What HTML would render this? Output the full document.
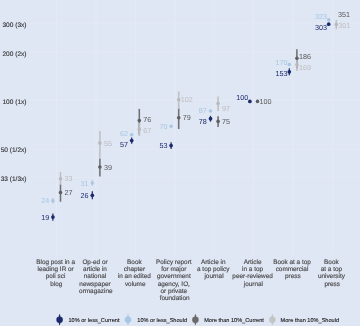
<!DOCTYPE html>
<html><head><meta charset="utf-8"><title>chart</title>
<style>
html,body{margin:0;padding:0;background:#dfe6f4;}
body{width:360px;height:326px;overflow:hidden;}
svg text{text-rendering:geometricPrecision;font-family:"Liberation Sans",sans-serif;}
.yl{font-size:6.55px;fill:#303030;stroke:#303030;stroke-width:0.12px;}
.dl{font-size:7.2px;}
.xl{font-size:6.4px;fill:#4a4a4a;stroke:#4a4a4a;stroke-width:0.15px;}
.lg{font-size:5.6px;fill:#222;stroke:#222;stroke-width:0.12px;}
</style></head><body>
<svg width="360" height="326" viewBox="0 0 360 326" style="display:block">
<rect width="360" height="326" fill="#dfe6f4"/>
<line x1="56.6" y1="0" x2="56.6" y2="255" stroke="#e6ebf7" stroke-width="1"/>
<line x1="96.0" y1="0" x2="96.0" y2="255" stroke="#e6ebf7" stroke-width="1"/>
<line x1="135.4" y1="0" x2="135.4" y2="255" stroke="#e6ebf7" stroke-width="1"/>
<line x1="174.8" y1="0" x2="174.8" y2="255" stroke="#e6ebf7" stroke-width="1"/>
<line x1="214.2" y1="0" x2="214.2" y2="255" stroke="#e6ebf7" stroke-width="1"/>
<line x1="253.6" y1="0" x2="253.6" y2="255" stroke="#e6ebf7" stroke-width="1"/>
<line x1="293.0" y1="0" x2="293.0" y2="255" stroke="#e6ebf7" stroke-width="1"/>
<line x1="332.4" y1="0" x2="332.4" y2="255" stroke="#e6ebf7" stroke-width="1"/>
<line x1="29.5" y1="23.8" x2="360" y2="23.8" stroke="#e6ebf7" stroke-width="0.7"/>
<line x1="29.5" y1="52.2" x2="360" y2="52.2" stroke="#e6ebf7" stroke-width="0.7"/>
<line x1="29.5" y1="100.7" x2="360" y2="100.7" stroke="#e6ebf7" stroke-width="0.7"/>
<line x1="29.5" y1="149.2" x2="360" y2="149.2" stroke="#e6ebf7" stroke-width="0.7"/>
<line x1="29.5" y1="177.6" x2="360" y2="177.6" stroke="#e6ebf7" stroke-width="0.7"/>
<text x="26.5" y="27.3" text-anchor="end" class="yl">300 (3x)</text>
<text x="26.5" y="55.6" text-anchor="end" class="yl">200 (2x)</text>
<text x="26.5" y="103.9" text-anchor="end" class="yl">100 (1x)</text>
<text x="26.5" y="152.2" text-anchor="end" class="yl">50 (1/2x)</text>
<text x="26.5" y="180.5" text-anchor="end" class="yl">33 (1/3x)</text>
<line x1="60.5" y1="184.4" x2="60.5" y2="201.7" stroke="#707070" stroke-width="1.55"/>
<line x1="60.5" y1="172.0" x2="60.5" y2="184.4" stroke="#bfbfbf" stroke-width="1.5"/>
<line x1="52.9" y1="213.4" x2="52.9" y2="220.8" stroke="#1b2a6b" stroke-width="1.2"/>
<line x1="52.9" y1="198.1" x2="52.9" y2="203.5" stroke="#a8c8e3" stroke-width="1.2"/>
<circle cx="60.5" cy="192.6" r="1.8" fill="#5e5e5e"/>
<circle cx="60.5" cy="178.7" r="1.8" fill="#b9b9b9"/>
<circle cx="52.9" cy="217.1" r="1.85" fill="#1b2a6b"/>
<circle cx="52.9" cy="200.8" r="1.75" fill="#a8c8e3"/>
<text x="68.5" y="195.2" text-anchor="middle" class="dl" fill="#5a5a5a">27</text>
<text x="68.5" y="181.3" text-anchor="middle" class="dl" fill="#bdbdbd">33</text>
<text x="45.2" y="219.7" text-anchor="middle" class="dl" fill="#1f2d6e">19</text>
<text x="45.2" y="203.4" text-anchor="middle" class="dl" fill="#a8c8e3">24</text>
<line x1="99.9" y1="158.6" x2="99.9" y2="176.6" stroke="#707070" stroke-width="1.55"/>
<line x1="99.9" y1="131.0" x2="99.9" y2="157.7" stroke="#bfbfbf" stroke-width="1.5"/>
<line x1="92.3" y1="191.3" x2="92.3" y2="199.3" stroke="#1b2a6b" stroke-width="1.2"/>
<line x1="92.3" y1="180.3" x2="92.3" y2="185.7" stroke="#a8c8e3" stroke-width="1.2"/>
<circle cx="99.9" cy="167.0" r="1.8" fill="#5e5e5e"/>
<circle cx="99.9" cy="143.1" r="1.8" fill="#b9b9b9"/>
<circle cx="92.3" cy="195.3" r="1.85" fill="#1b2a6b"/>
<circle cx="92.3" cy="183.0" r="1.75" fill="#a8c8e3"/>
<text x="107.9" y="169.6" text-anchor="middle" class="dl" fill="#5a5a5a">39</text>
<text x="107.9" y="145.7" text-anchor="middle" class="dl" fill="#bdbdbd">55</text>
<text x="84.6" y="197.9" text-anchor="middle" class="dl" fill="#1f2d6e">26</text>
<text x="84.6" y="185.6" text-anchor="middle" class="dl" fill="#a8c8e3">31</text>
<line x1="139.3" y1="108.9" x2="139.3" y2="134.5" stroke="#707070" stroke-width="1.55"/>
<line x1="139.3" y1="123.1" x2="139.3" y2="136.1" stroke="#bfbfbf" stroke-width="1.5"/>
<line x1="131.7" y1="137.5" x2="131.7" y2="143.7" stroke="#1b2a6b" stroke-width="1.2"/>
<circle cx="139.3" cy="120.5" r="1.8" fill="#5e5e5e"/>
<circle cx="139.3" cy="129.3" r="1.8" fill="#b9b9b9"/>
<circle cx="131.7" cy="140.6" r="1.85" fill="#1b2a6b"/>
<circle cx="131.7" cy="134.7" r="1.75" fill="#a8c8e3"/>
<text x="147.3" y="122.4" text-anchor="middle" class="dl" fill="#5a5a5a">76</text>
<text x="147.3" y="133.2" text-anchor="middle" class="dl" fill="#bdbdbd">67</text>
<text x="124.0" y="146.7" text-anchor="middle" class="dl" fill="#1f2d6e">57</text>
<text x="124.0" y="135.5" text-anchor="middle" class="dl" fill="#a8c8e3">62</text>
<line x1="178.7" y1="108.2" x2="178.7" y2="129.0" stroke="#707070" stroke-width="1.55"/>
<line x1="178.7" y1="91.5" x2="178.7" y2="109.1" stroke="#bfbfbf" stroke-width="1.5"/>
<line x1="171.1" y1="142.3" x2="171.1" y2="148.9" stroke="#1b2a6b" stroke-width="1.2"/>
<circle cx="178.7" cy="117.8" r="1.8" fill="#5e5e5e"/>
<circle cx="178.7" cy="99.7" r="1.8" fill="#b9b9b9"/>
<circle cx="171.1" cy="145.6" r="1.85" fill="#1b2a6b"/>
<circle cx="171.1" cy="126.3" r="1.75" fill="#a8c8e3"/>
<text x="186.7" y="120.4" text-anchor="middle" class="dl" fill="#5a5a5a">79</text>
<text x="186.7" y="102.3" text-anchor="middle" class="dl" fill="#bdbdbd">102</text>
<text x="163.4" y="148.2" text-anchor="middle" class="dl" fill="#1f2d6e">53</text>
<text x="163.4" y="128.9" text-anchor="middle" class="dl" fill="#a8c8e3">70</text>
<line x1="218.1" y1="116.3" x2="218.1" y2="127.0" stroke="#707070" stroke-width="1.55"/>
<line x1="218.1" y1="96.4" x2="218.1" y2="111.1" stroke="#bfbfbf" stroke-width="1.5"/>
<line x1="210.5" y1="115.8" x2="210.5" y2="121.6" stroke="#1b2a6b" stroke-width="1.2"/>
<circle cx="218.1" cy="121.4" r="1.8" fill="#5e5e5e"/>
<circle cx="218.1" cy="103.5" r="1.8" fill="#b9b9b9"/>
<circle cx="210.5" cy="118.7" r="1.85" fill="#1b2a6b"/>
<circle cx="210.5" cy="111.1" r="1.75" fill="#a8c8e3"/>
<text x="226.1" y="124.2" text-anchor="middle" class="dl" fill="#5a5a5a">75</text>
<text x="226.1" y="110.7" text-anchor="middle" class="dl" fill="#bdbdbd">97</text>
<text x="202.8" y="124.2" text-anchor="middle" class="dl" fill="#1f2d6e">78</text>
<text x="202.8" y="113.3" text-anchor="middle" class="dl" fill="#a8c8e3">87</text>
<circle cx="257.5" cy="101.4" r="1.8" fill="#5e5e5e"/>
<circle cx="249.9" cy="101.4" r="1.85" fill="#1b2a6b"/>
<text x="265.5" y="104.0" text-anchor="middle" class="dl" fill="#5a5a5a">100</text>
<text x="242.2" y="100.4" text-anchor="middle" class="dl" fill="#1f2d6e">100</text>
<line x1="296.9" y1="49.2" x2="296.9" y2="68.4" stroke="#707070" stroke-width="1.55"/>
<line x1="296.9" y1="59.6" x2="296.9" y2="71.1" stroke="#bfbfbf" stroke-width="1.5"/>
<line x1="289.3" y1="68.3" x2="289.3" y2="75.3" stroke="#1b2a6b" stroke-width="1.2"/>
<circle cx="296.9" cy="58.2" r="1.8" fill="#5e5e5e"/>
<circle cx="296.9" cy="64.8" r="1.8" fill="#b9b9b9"/>
<circle cx="289.3" cy="71.8" r="1.85" fill="#1b2a6b"/>
<circle cx="289.3" cy="64.4" r="1.75" fill="#a8c8e3"/>
<text x="304.9" y="58.9" text-anchor="middle" class="dl" fill="#5a5a5a">186</text>
<text x="304.9" y="70.2" text-anchor="middle" class="dl" fill="#bdbdbd">169</text>
<text x="281.6" y="76.4" text-anchor="middle" class="dl" fill="#1f2d6e">153</text>
<text x="281.6" y="64.8" text-anchor="middle" class="dl" fill="#a8c8e3">170</text>
<line x1="336.3" y1="20.1" x2="336.3" y2="29.2" stroke="#bfbfbf" stroke-width="1.5"/>
<circle cx="336.3" cy="24.6" r="1.8" fill="#b9b9b9"/>
<circle cx="328.7" cy="24.2" r="1.85" fill="#1b2a6b"/>
<circle cx="328.7" cy="19.7" r="1.75" fill="#a8c8e3"/>
<text x="344.3" y="28.1" text-anchor="middle" class="dl" fill="#bdbdbd">301</text>
<text x="321.0" y="30.4" text-anchor="middle" class="dl" fill="#1f2d6e">303</text>
<text x="321.0" y="19.0" text-anchor="middle" class="dl" fill="#a8c8e3">323</text>
<text x="344.1" y="16.6" text-anchor="middle" class="dl" fill="#5a5a5a">351</text>
<text x="55.6" y="263.6" text-anchor="middle" class="xl">Blog post in a</text>
<text x="55.6" y="270.9" text-anchor="middle" class="xl">leading IR or</text>
<text x="55.6" y="278.3" text-anchor="middle" class="xl">poli sci</text>
<text x="56.4" y="285.6" text-anchor="middle" class="xl">blog</text>
<text x="95.0" y="263.6" text-anchor="middle" class="xl">Op-ed or</text>
<text x="95.0" y="270.9" text-anchor="middle" class="xl">article in</text>
<text x="95.0" y="278.3" text-anchor="middle" class="xl">national</text>
<text x="95.0" y="285.6" text-anchor="middle" class="xl">newspaper</text>
<text x="95.8" y="292.9" text-anchor="middle" class="xl">ormagazine</text>
<text x="134.4" y="263.6" text-anchor="middle" class="xl">Book</text>
<text x="134.4" y="270.9" text-anchor="middle" class="xl">chapter</text>
<text x="134.4" y="278.3" text-anchor="middle" class="xl">in an edited</text>
<text x="135.2" y="285.6" text-anchor="middle" class="xl">volume</text>
<text x="173.8" y="263.6" text-anchor="middle" class="xl">Policy report</text>
<text x="173.8" y="270.9" text-anchor="middle" class="xl">for major</text>
<text x="173.8" y="278.3" text-anchor="middle" class="xl">government</text>
<text x="173.8" y="285.6" text-anchor="middle" class="xl">agency, IO,</text>
<text x="173.8" y="292.9" text-anchor="middle" class="xl">or private</text>
<text x="174.6" y="300.2" text-anchor="middle" class="xl">foundation</text>
<text x="213.2" y="263.6" text-anchor="middle" class="xl">Article in</text>
<text x="213.2" y="270.9" text-anchor="middle" class="xl">a top policy</text>
<text x="214.0" y="278.3" text-anchor="middle" class="xl">journal</text>
<text x="252.6" y="263.6" text-anchor="middle" class="xl">Article</text>
<text x="252.6" y="270.9" text-anchor="middle" class="xl">in a top</text>
<text x="252.6" y="278.3" text-anchor="middle" class="xl">peer-reviewed</text>
<text x="253.4" y="285.6" text-anchor="middle" class="xl">journal</text>
<text x="292.0" y="263.6" text-anchor="middle" class="xl">Book at a top</text>
<text x="292.0" y="270.9" text-anchor="middle" class="xl">commercial</text>
<text x="292.8" y="278.3" text-anchor="middle" class="xl">press</text>
<text x="331.4" y="263.6" text-anchor="middle" class="xl">Book</text>
<text x="331.4" y="270.9" text-anchor="middle" class="xl">at a top</text>
<text x="331.4" y="278.3" text-anchor="middle" class="xl">university</text>
<text x="332.2" y="285.6" text-anchor="middle" class="xl">press</text>
<polygon points="59.6,313.8 60.300000000000004,315.5 60.300000000000004,323.9 59.6,325.59999999999997 58.9,323.9 58.9,315.5" fill="#1b2a6b"/>
<circle cx="59.6" cy="319.7" r="3.25" fill="#1b2a6b"/>
<text x="68.5" y="322.2" class="lg">10% or less_Current</text>
<polygon points="128.0,313.8 128.7,315.5 128.7,323.9 128.0,325.59999999999997 127.3,323.9 127.3,315.5" fill="#a6c8e2"/>
<circle cx="128.0" cy="319.7" r="3.25" fill="#a6c8e2"/>
<text x="137.3" y="322.2" class="lg">10% or less_Should</text>
<polygon points="195.4,313.8 196.1,315.5 196.1,323.9 195.4,325.59999999999997 194.70000000000002,323.9 194.70000000000002,315.5" fill="#6a6a6a"/>
<circle cx="195.4" cy="319.7" r="3.25" fill="#6a6a6a"/>
<text x="204.2" y="322.2" class="lg">More than 10%_Current</text>
<polygon points="272.4,313.8 273.09999999999997,315.5 273.09999999999997,323.9 272.4,325.59999999999997 271.7,323.9 271.7,315.5" fill="#c4c4c4"/>
<circle cx="272.4" cy="319.7" r="3.25" fill="#c4c4c4"/>
<text x="280.6" y="322.2" class="lg">More than 10%_Should</text>
</svg>
</body></html>
